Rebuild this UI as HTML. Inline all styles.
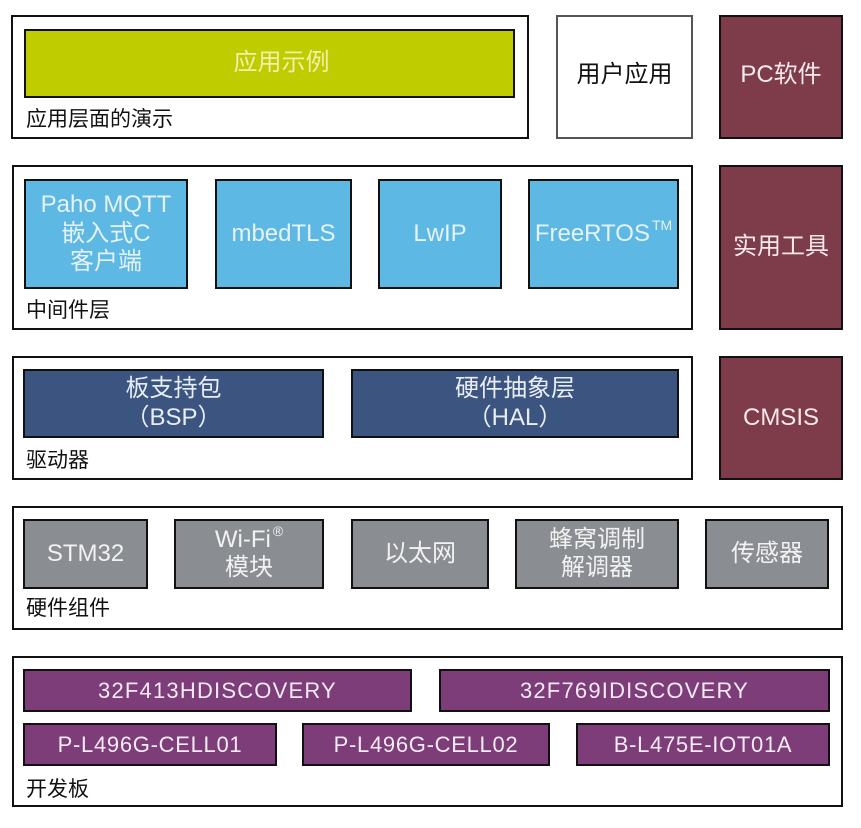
<!DOCTYPE html>
<html>
<head>
<meta charset="utf-8">
<style>
  html, body { margin:0; padding:0; background:#ffffff; }
  body { width:861px; height:828px; position:relative; overflow:hidden;
         font-family:"Liberation Sans","Noto Sans CJK SC",sans-serif; }
  .b { position:absolute; box-sizing:border-box; border:2px solid #111; }
  .c { display:flex; flex-direction:column; align-items:center; justify-content:center; text-align:center; }
  .in { font-size:24px; line-height:28.5px; }
  .lbl { position:absolute; left:26px; font-size:21px; line-height:24px; color:#111; white-space:nowrap; }
  .green { background:#bfcc00; color:#f2f0a8; }
  .blue { background:#5db8e3; color:#e6f2fa; }
  .navy { background:#3c5580; color:#e8edf4; }
  .gray { background:#8a8d91; color:#f2f2f2; }
  .maroon { background:#7e3b49; color:#f6eaec; }
  .purple { background:#7c3d79; color:#f6eaf5; font-size:22px; line-height:26px; }
  sup { font-size:14px; line-height:0; vertical-align:baseline; position:relative; top:-11px; margin-left:2px; }
</style>
</head>
<body>

<!-- Row 1 -->
<div class="b" style="left:11px;top:15px;width:518px;height:124px;"></div>
<div class="b c in green" style="left:24px;top:29px;width:491px;height:69px;padding-left:24px;">应用示例</div>
<div class="lbl" style="top:108px;">应用层面的演示</div>

<div class="b c in" style="left:556px;top:15px;width:137px;height:124px;border:2px solid #555;color:#111;padding-bottom:3px;">用户应用</div>
<div class="b c in maroon" style="left:719px;top:15px;width:124px;height:124px;padding-bottom:4px;">PC软件</div>

<!-- Row 2 -->
<div class="b" style="left:12px;top:165px;width:681px;height:165px;"></div>
<div class="b c in blue" style="left:24px;top:179px;width:164px;height:110px;">Paho MQTT<br>嵌入式C<br>客户端</div>
<div class="b c in blue" style="left:215px;top:179px;width:137px;height:110px;">mbedTLS</div>
<div class="b c in blue" style="left:378px;top:179px;width:124px;height:110px;">LwIP</div>
<div class="b c in blue" style="left:528px;top:179px;width:151px;height:110px;"><span>FreeRTOS<sup>TM</sup></span></div>
<div class="lbl" style="top:299px;">中间件层</div>

<div class="b c in maroon" style="left:719px;top:165px;width:124px;height:165px;">实用工具</div>

<!-- Row 3 -->
<div class="b" style="left:12px;top:356px;width:681px;height:124px;"></div>
<div class="b c in navy" style="left:23px;top:369px;width:301px;height:69px;">板支持包<br>（BSP）</div>
<div class="b c in navy" style="left:351px;top:369px;width:328px;height:69px;">硬件抽象层<br>（HAL）</div>
<div class="lbl" style="top:449px;">驱动器</div>

<div class="b c in maroon" style="left:719px;top:356px;width:124px;height:124px;">CMSIS</div>

<!-- Row 4 -->
<div class="b" style="left:12px;top:506px;width:831px;height:124px;"></div>
<div class="b c in gray" style="left:23px;top:519px;width:125px;height:70px;">STM32</div>
<div class="b c in gray" style="left:174px;top:519px;width:150px;height:70px;"><span>Wi-Fi<sup>®</sup></span><span>模块</span></div>
<div class="b c in gray" style="left:351px;top:519px;width:138px;height:70px;">以太网</div>
<div class="b c in gray" style="left:515px;top:519px;width:164px;height:70px;">蜂窝调制<br>解调器</div>
<div class="b c in gray" style="left:705px;top:519px;width:124px;height:70px;">传感器</div>
<div class="lbl" style="top:597px;">硬件组件</div>

<!-- Row 5 -->
<div class="b" style="left:12px;top:656px;width:831px;height:151px;"></div>
<div class="b c purple" style="left:23px;top:669px;width:389px;height:43px;letter-spacing:1.2px;">32F413HDISCOVERY</div>
<div class="b c purple" style="left:439px;top:669px;width:391px;height:43px;letter-spacing:1.2px;">32F769IDISCOVERY</div>
<div class="b c purple" style="left:23px;top:723px;width:254px;height:43px;letter-spacing:0.7px;">P-L496G-CELL01</div>
<div class="b c purple" style="left:302px;top:723px;width:248px;height:43px;letter-spacing:0.7px;">P-L496G-CELL02</div>
<div class="b c purple" style="left:576px;top:723px;width:254px;height:43px;letter-spacing:0.7px;">B-L475E-IOT01A</div>
<div class="lbl" style="top:778px;">开发板</div>

</body>
</html>
